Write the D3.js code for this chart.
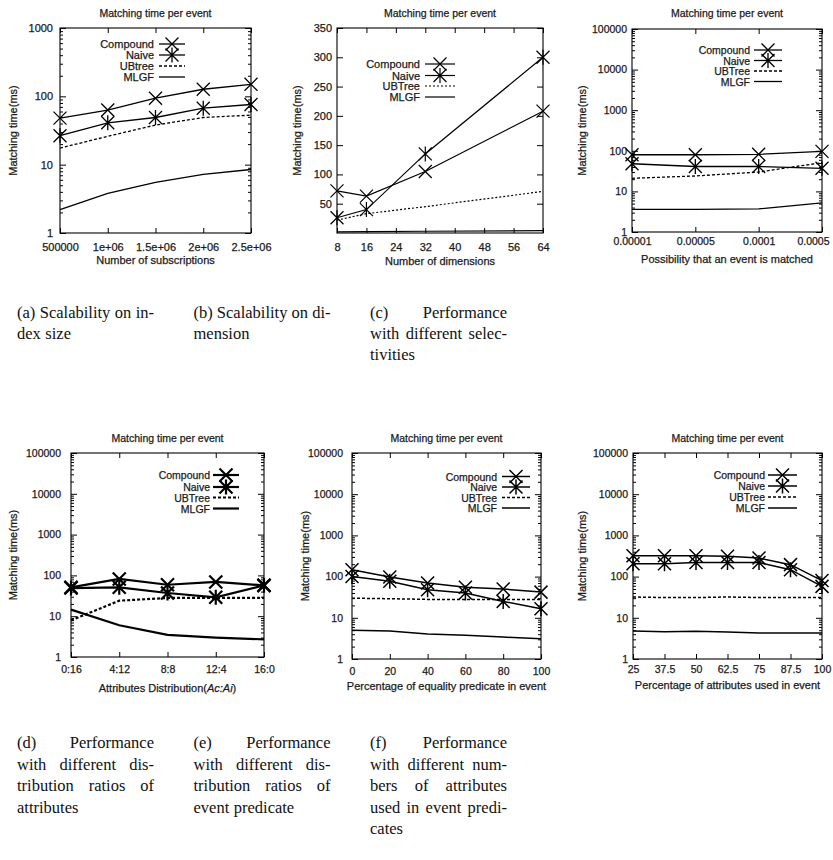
<!DOCTYPE html>
<html>
<head>
<meta charset="utf-8">
<script src="https://cdn.jsdelivr.net/npm/d3@7"></script>
<style>
  body { margin: 0; background: #fff; }
  .chart text { font-family: "Liberation Sans", Arial, sans-serif; fill: #1a1a1a; stroke: #1a1a1a; stroke-width: 0.25px; }
  .cap text { font-family: "Liberation Serif", "DejaVu Serif", serif; font-size: 16.5px; fill: #111; }
</style>
</head>
<body>
<script>
// ---- data ----
const chartTitle = "Matching time per event";
const yAxisTitle = "Matching time(ms)";
const namesA = ["Compound", "Naive", "UBtree", "MLGF"];
const namesB = ["Compound", "Naive", "UBTree", "MLGF"];

// (a) index size
const subsX = [500000, 1000000, 1500000, 2000000, 2500000];
const subsXLabels = ["500000", "1e+06", "1.5e+06", "2e+06", "2.5e+06"];
const subsCompound = [48, 63, 94, 127, 150];
const subsNaive = [26.5, 41, 49, 67, 76];
const subsUBtree = [17.5, 26, 38, 49, 53];
const subsMLGF = [2.2, 3.8, 5.5, 7.2, 8.5];

// (b) dimension
const dimX = [8, 16, 32, 64];
const dimTicks = [8, 16, 24, 32, 40, 48, 56, 64];
const dimYTicks = [50, 100, 150, 200, 250, 300, 350];
const dimCompound = [72, 63, 105, 208];
const dimNaive = [26, 40, 135, 300];
const dimUBTree = [22, 33, 45, 71];
const dimMLGF = [2, 2.5, 3, 4];

// (c) selectivity
const selX = ["0.00001", "0.00005", "0.0001", "0.0005"];
const selCompound = [80, 80, 82, 97];
const selNaive = [48, 41, 41, 37];
const selUBTree = [21, 24, 30, 51];
const selMLGF = [3.6, 3.6, 3.7, 5.2];

// (d) attribute distribution
const distX = ["0:16", "4:12", "8:8", "12:4", "16:0"];
const distCompound = [51, 82, 59, 69, 57];
const distNaive = [49, 51, 37, 29, 57];
const distUBTree = [7.9, 24, 28, 28, 28];
const distMLGF = [14.5, 6, 3.5, 3, 2.7];

// (e) equality predicates
const eqX = [0, 20, 40, 60, 80, 100];
const eqCompound = [147, 98, 70, 55, 50, 42];
const eqNaive = [101, 77, 48, 40, 25, 16.5];
const eqUBTree = [30, 29, 28, 28, 28, 28];
const eqMLGF = [5, 4.8, 4.05, 3.75, 3.4, 3.1];

// (f) attributes used
const attrX = [25, 37.5, 50, 62.5, 75, 87.5, 100];
const attrCompound = [322, 322, 322, 311, 282, 195, 80];
const attrNaive = [206, 206, 220, 220, 220, 147, 58];
const attrUBTree = [32, 31, 31, 32, 31, 31, 31];
const attrMLGF = [4.8, 4.6, 4.7, 4.5, 4.3, 4.3, 4.3];

const decades3 = [1, 10, 100, 1000];
const decades5 = [1, 10, 100, 1000, 10000, 100000];

// captions
const captionA = ["(a) Scalability on in-", "dex size"];
const captionB = ["(b) Scalability on di-", "mension"];
const captionC = ["(c) Performance", "with different selec-", "tivities"];
const captionD = ["(d) Performance", "with different dis-", "tribution ratios of", "attributes"];
const captionE = ["(e) Performance", "with different dis-", "tribution ratios of", "event predicate"];
const captionF = ["(f) Performance", "with different num-", "bers of attributes", "used in event predi-", "cates"];

// ---- layout ----
const panels = [
  { box: [60, 251, 28, 233], xType: "linear", xDomain: [500000, 2500000], xTicks: subsX, xTickLabels: subsXLabels,
    xs: subsX, yType: "log", yDomain: [1, 1000], yTicks: decades3,
    series: [subsCompound, subsNaive, subsUBtree, subsMLGF], names: namesA,
    xLabel: "Number of subscriptions", xPad: 10, yPad: 7, xLabelY: 260, titleY: 13, yLabelX: 13,
    legend: { right: 154, l0: 159, l1: 185, rows: [44, 55, 66, 77] }, lw: 1.3, dash: "3,2", fs: 11 },
  { box: [337, 543, 28, 233], xType: "linear", xDomain: [8, 64], xTicks: dimTicks, xTickLabels: dimTicks.map(String),
    xs: dimX, yType: "linear", yDomain: [0, 350], yTicks: dimYTicks,
    series: [dimCompound, dimNaive, dimUBTree, dimMLGF], names: namesB,
    xLabel: "Number of dimensions", xPad: 10, yPad: 5, xLabelY: 261, titleY: 13, yLabelX: 297,
    legend: { right: 420, l0: 425, l1: 455, rows: [64, 75.5, 86, 97] }, lw: 1.2, dash: "2,2", fs: 11 },
  { box: [632, 822, 29, 232], xType: "point", xDomain: selX, xs: selX, yType: "log", yDomain: [1, 100000], yTicks: decades5,
    series: [selCompound, selNaive, selUBTree, selMLGF], names: namesB,
    xLabel: "Possibility that an event is matched", xPad: 6, yPad: 5, xLabelY: 259, titleY: 13, yLabelX: 582,
    legend: { right: 750, l0: 754, l1: 782, rows: [50, 60.5, 71, 81.5] }, lw: 1.3, dash: "3,2", fs: 10.5,
    lastLabelShift: -9 },
  { box: [71, 264, 453, 657], xType: "point", xDomain: distX, xs: distX, yType: "log", yDomain: [1, 100000], yTicks: decades5,
    series: [distCompound, distNaive, distUBTree, distMLGF], names: namesB,
    xLabel: "Attributes Distribution(", xItalic: "Ac:Ai", xTail: ")", xPad: 9, yPad: 10, xLabelY: 688, titleY: 438, yLabelX: 13,
    legend: { right: 210, l0: 213, l1: 239, rows: [475, 487, 497.5, 508.5] }, lw: 2.2, dash: "3,2", fs: 10.5 },
  { box: [352, 541, 453, 659], xType: "linear", xDomain: [0, 100], xTicks: eqX, xTickLabels: eqX.map(String),
    xs: eqX, yType: "log", yDomain: [1, 100000], yTicks: decades5,
    series: [eqCompound, eqNaive, eqUBTree, eqMLGF], names: namesB,
    xLabel: "Percentage of equality predicate in event", xPad: 9, yPad: 9, xLabelY: 686, titleY: 438, yLabelX: 305,
    legend: { right: 497, l0: 502, l1: 530, rows: [476.5, 487, 497.5, 508] }, lw: 1.5, dash: "3,2", fs: 10.5 },
  { box: [633, 822, 453, 659], xType: "linear", xDomain: [25, 100], xTicks: attrX, xTickLabels: attrX.map(String),
    xs: attrX, yType: "log", yDomain: [1, 100000], yTicks: decades5,
    series: [attrCompound, attrNaive, attrUBTree, attrMLGF], names: namesB,
    xLabel: "Percentage of attributes used in event", xPad: 7, yPad: 5, xLabelY: 685, titleY: 438, yLabelX: 582,
    legend: { right: 765, l0: 768, l1: 797, rows: [475, 486, 497, 508] }, lw: 1.5, dash: "3,2", fs: 10.5 }
];

const captions = [
  { lines: captionA, x: 17, y: 318, step: 21 },
  { lines: captionB, x: 193.5, y: 318, step: 21 },
  { lines: captionC, x: 370, y: 318, step: 21 },
  { lines: captionD, x: 17, y: 748, step: 21.5 },
  { lines: captionE, x: 193.5, y: 748, step: 21.5 },
  { lines: captionF, x: 370, y: 748, step: 21.5 }
];
const captionWidth = 137;

// ---- drawing ----
const svg = d3.select("body").append("svg")
  .attr("width", 833)
  .attr("height", 860);

function markerPath(kind, r) {
  let d = `M${-r},${-r}L${r},${r}M${-r},${r}L${r},${-r}`;
  if (kind === "star") d += `M0,${-r * 1.15}L0,${r * 1.15}`;
  return d;
}
const markerKinds = ["cross", "star", null, null];

function tidy(sel, size) {
  sel.select(".domain").remove();
  sel.attr("font-family", null).attr("font-size", size);
  sel.selectAll(".tick line").attr("stroke", "#000");
}

function drawPanel(p) {
  const [x0, x1, y0, y1] = p.box;
  const g = svg.append("g").attr("class", "chart");

  const x = p.xType === "point"
    ? d3.scalePoint().domain(p.xDomain).range([x0, x1])
    : d3.scaleLinear().domain(p.xDomain).range([x0, x1]);
  const y = (p.yType === "log" ? d3.scaleLog() : d3.scaleLinear())
    .domain(p.yDomain).range([y1, y0]);

  // axes, ticks pointing inwards on all four sides
  const xb = d3.axisBottom(x).tickSize(-5).tickPadding(p.xPad);
  const xt = d3.axisTop(x).tickSize(-5).tickFormat("");
  if (p.xType !== "point") {
    xb.tickValues(p.xTicks).tickFormat((d, i) => p.xTickLabels[i]);
    xt.tickValues(p.xTicks);
  }
  const xbG = g.append("g").attr("transform", `translate(0,${y1})`).call(xb).call(tidy, p.fs);
  if (p.lastLabelShift) {
    xbG.selectAll(".tick text").filter((d, i, n) => i === n.length - 1).attr("dx", p.lastLabelShift);
  }
  g.append("g").attr("transform", `translate(0,${y0})`).call(xt).call(tidy, p.fs);

  const yl = d3.axisLeft(y).tickSize(-6).tickPadding(p.yPad)
    .tickValues(p.yTicks).tickFormat(d3.format("d"));
  const yr = d3.axisRight(y).tickSize(-6).tickValues(p.yTicks).tickFormat("");
  g.append("g").attr("transform", `translate(${x0},0)`).call(yl).call(tidy, p.fs);
  g.append("g").attr("transform", `translate(${x1},0)`).call(yr).call(tidy, p.fs);

  if (p.yType === "log") {
    const minors = [];
    p.yTicks.slice(0, -1).forEach(k => { for (let m = 2; m < 10; m++) minors.push(k * m); });
    g.append("g").attr("transform", `translate(${x0},0)`)
      .call(d3.axisLeft(y).tickSize(-3).tickValues(minors).tickFormat("")).call(tidy, p.fs);
    g.append("g").attr("transform", `translate(${x1},0)`)
      .call(d3.axisRight(y).tickSize(-3).tickValues(minors).tickFormat("")).call(tidy, p.fs);
  }

  g.append("rect")
    .attr("x", x0).attr("y", y0)
    .attr("width", x1 - x0).attr("height", y1 - y0)
    .attr("fill", "none").attr("stroke", "#000").attr("stroke-width", 1.1);

  // title and axis labels
  g.append("text")
    .attr("x", (x0 + x1) / 2).attr("y", p.titleY)
    .attr("text-anchor", "middle").attr("dominant-baseline", "central")
    .attr("font-size", 10.5).text(chartTitle);

  const xl = g.append("text")
    .attr("x", (x0 + x1) / 2).attr("y", p.xLabelY)
    .attr("text-anchor", "middle").attr("dominant-baseline", "central")
    .attr("font-size", 11);
  xl.append("tspan").text(p.xLabel);
  if (p.xItalic) {
    xl.append("tspan").attr("font-style", "italic").text(p.xItalic);
    xl.append("tspan").text(p.xTail);
  }

  g.append("text")
    .attr("transform", `translate(${p.yLabelX},${(y0 + y1) / 2}) rotate(-90)`)
    .attr("text-anchor", "middle").attr("dominant-baseline", "central")
    .attr("font-size", 11).text(yAxisTitle);

  // series
  const line = d3.line()
    .x((d, i) => x(p.xs[i]))
    .y(d => y(d));

  p.series.forEach((vals, si) => {
    g.append("path")
      .datum(vals)
      .attr("d", line)
      .attr("fill", "none")
      .attr("stroke", "#000")
      .attr("stroke-width", p.lw)
      .attr("stroke-dasharray", si === 2 ? p.dash : null);
    const kind = markerKinds[si];
    if (kind) {
      g.selectAll(null)
        .data(vals)
        .join("path")
        .attr("transform", (d, i) => `translate(${x(p.xs[i])},${y(d)})`)
        .attr("d", markerPath(kind, 6.5))
        .attr("fill", "none")
        .attr("stroke", "#000")
        .attr("stroke-width", p.lw);
    }
  });

  // legend
  const lg = p.legend;
  p.names.forEach((name, si) => {
    const ry = lg.rows[si];
    g.append("text")
      .attr("x", lg.right).attr("y", ry)
      .attr("text-anchor", "end").attr("dominant-baseline", "central")
      .attr("font-size", p.fs).text(name);
    g.append("line")
      .attr("x1", lg.l0).attr("x2", lg.l1)
      .attr("y1", ry).attr("y2", ry)
      .attr("stroke", "#000")
      .attr("stroke-width", p.lw)
      .attr("stroke-dasharray", si === 2 ? p.dash : null);
    const kind = markerKinds[si];
    if (kind) {
      g.append("path")
        .attr("transform", `translate(${(lg.l0 + lg.l1) / 2},${ry})`)
        .attr("d", markerPath(kind, 6.5))
        .attr("fill", "none").attr("stroke", "#000").attr("stroke-width", p.lw);
    }
  });
}

panels.forEach(drawPanel);

// captions, justified like the paper's columns
const cap = svg.append("g").attr("class", "cap");
captions.forEach(c => {
  c.lines.forEach((ln, li) => {
    const words = ln.split(" ");
    const yy = c.y + li * c.step;
    const nodes = words.map(w => cap.append("text").attr("y", yy).text(w));
    const widths = nodes.map(n => n.node().getComputedTextLength());
    const last = li === c.lines.length - 1;
    const gap = (!last && words.length > 1)
      ? (captionWidth - d3.sum(widths)) / (words.length - 1)
      : 4.5;
    let cx = c.x;
    nodes.forEach((n, i) => { n.attr("x", cx); cx += widths[i] + gap; });
  });
});
</script>
</body>
</html>
